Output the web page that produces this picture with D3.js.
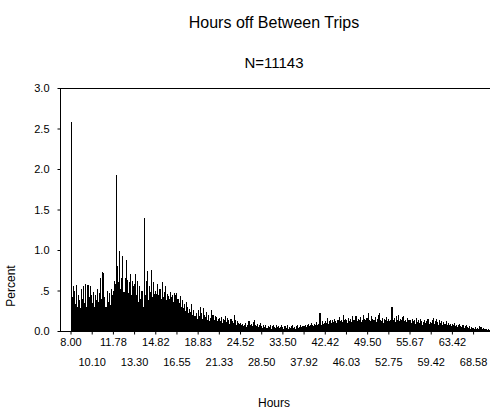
<!DOCTYPE html>
<html>
<head>
<meta charset="utf-8">
<script src="https://d3js.org/d3.v7.min.js"></script>
<title>Hours off Between Trips</title>
<style>
body { margin: 0; background: #fff; }
svg { display: block; font-family: "Liberation Sans", Arial, sans-serif; }
</style>
</head>
<body>
<svg id="svg" width="494" height="412"></svg>
<script>

// one label every 20 hour-values (categories)
let tickLabels = ["8.00", "10.10", "11.78", "13.30", "14.82", "16.55", "18.83", "21.33",
  "24.52", "28.50", "33.50", "37.92", "42.42", "46.03", "49.50", "52.75",
  "55.67", "59.42", "63.42", "68.58"];
let tickEvery = 20;
let yTicks = [0, 0.5, 1, 1.5, 2, 2.5, 3];

// percent of trips for each distinct hours value, one row per label
let pct00 = [2.58, 0.42, 0.55, 0.50, 0.33, 0.57, 0.30, 0.45, 0.38, 0.28, 0.52, 0.40, 0.56, 0.35, 0.58, 0.30, 0.57, 0.42, 0.55, 0.45];
let pct01 = [0.35, 0.48, 0.30, 0.44, 0.38, 0.52, 0.36, 0.47, 0.65, 0.40, 0.73, 0.72, 0.42, 0.30, 0.50, 0.36, 0.47, 0.32, 0.52, 0.45];
let pct02 = [0.50, 0.62, 0.58, 1.93, 0.80, 0.60, 0.99, 0.52, 0.65, 0.93, 0.48, 0.66, 0.88, 0.63, 0.47, 0.61, 0.70, 0.45, 0.62, 0.55];
let pct03 = [0.58, 0.70, 0.45, 0.62, 0.36, 0.55, 0.40, 0.50, 0.30, 1.40, 0.45, 0.62, 0.74, 0.38, 0.55, 0.48, 0.75, 0.42, 0.60, 0.46];
let pct04 = [0.50, 0.46, 0.58, 0.44, 0.52, 0.40, 0.60, 0.42, 0.48, 0.55, 0.38, 0.46, 0.43, 0.40, 0.48, 0.42, 0.45, 0.36, 0.47, 0.44];
let pct05 = [0.47, 0.40, 0.35, 0.43, 0.30, 0.38, 0.28, 0.33, 0.25, 0.36, 0.30, 0.22, 0.27, 0.24, 0.33, 0.20, 0.26, 0.18, 0.22, 0.15];
let pct06 = [0.26, 0.18, 0.30, 0.22, 0.15, 0.28, 0.20, 0.17, 0.24, 0.14, 0.20, 0.12, 0.16, 0.26, 0.20, 0.13, 0.18, 0.17, 0.12, 0.15];
let pct07 = [0.16, 0.12, 0.17, 0.10, 0.15, 0.13, 0.18, 0.11, 0.16, 0.14, 0.09, 0.15, 0.12, 0.10, 0.20, 0.13, 0.08, 0.12, 0.10, 0.09];
let pct08 = [0.10, 0.07, 0.09, 0.06, 0.08, 0.10, 0.05, 0.08, 0.12, 0.07, 0.09, 0.06, 0.11, 0.13, 0.08, 0.06, 0.09, 0.05, 0.07, 0.10];
let pct09 = [0.06, 0.04, 0.07, 0.05, 0.08, 0.04, 0.06, 0.05, 0.07, 0.03, 0.06, 0.08, 0.05, 0.04, 0.07, 0.05, 0.06, 0.04, 0.05, 0.07];
let pct10 = [0.05, 0.03, 0.06, 0.04, 0.07, 0.03, 0.05, 0.04, 0.06, 0.08, 0.04, 0.05, 0.03, 0.06, 0.07, 0.04, 0.05, 0.08, 0.05, 0.06];
let pct11 = [0.06, 0.08, 0.05, 0.07, 0.09, 0.06, 0.08, 0.10, 0.07, 0.06, 0.09, 0.08, 0.11, 0.07, 0.09, 0.22, 0.08, 0.12, 0.09, 0.10];
let pct12 = [0.12, 0.10, 0.16, 0.09, 0.12, 0.14, 0.10, 0.13, 0.11, 0.15, 0.12, 0.10, 0.14, 0.17, 0.12, 0.13, 0.11, 0.20, 0.13, 0.15];
let pct13 = [0.14, 0.10, 0.16, 0.12, 0.15, 0.11, 0.18, 0.13, 0.14, 0.19, 0.12, 0.15, 0.13, 0.17, 0.11, 0.14, 0.20, 0.15, 0.13, 0.16];
let pct14 = [0.16, 0.22, 0.14, 0.12, 0.18, 0.15, 0.13, 0.17, 0.11, 0.15, 0.20, 0.22, 0.14, 0.12, 0.16, 0.10, 0.15, 0.13, 0.17, 0.12];
let pct15 = [0.15, 0.12, 0.14, 0.30, 0.13, 0.16, 0.11, 0.18, 0.14, 0.20, 0.12, 0.15, 0.13, 0.17, 0.19, 0.12, 0.14, 0.11, 0.16, 0.13];
let pct16 = [0.13, 0.10, 0.15, 0.12, 0.14, 0.09, 0.16, 0.11, 0.13, 0.10, 0.15, 0.12, 0.08, 0.11, 0.14, 0.10, 0.12, 0.15, 0.09, 0.11];
let pct17 = [0.10, 0.13, 0.16, 0.09, 0.12, 0.15, 0.11, 0.08, 0.13, 0.10, 0.12, 0.07, 0.11, 0.09, 0.12, 0.08, 0.10, 0.07, 0.09, 0.06];
let pct18 = [0.09, 0.07, 0.10, 0.06, 0.08, 0.05, 0.07, 0.09, 0.06, 0.05, 0.07, 0.04, 0.06, 0.08, 0.05, 0.04, 0.06, 0.03, 0.05, 0.04];
let pct19 = [0.04, 0.03, 0.05, 0.02, 0.04, 0.03, 0.06, 0.05, 0.03, 0.04, 0.02, 0.03, 0.02, 0.01, 0.02, 0.01];

let percent = [].concat(pct00, pct01, pct02, pct03, pct04, pct05, pct06, pct07, pct08, pct09,
  pct10, pct11, pct12, pct13, pct14, pct15, pct16, pct17, pct18, pct19);

let plotLeft = 60, plotRight = 490, plotTop = 88, plotBottom = 331;

let svg = d3.select("#svg");

let x = d3.scaleBand()
  .domain(d3.range(percent.length))
  .range([70.5, 490]);

let y = d3.scaleLinear()
  .domain([0, 3])
  .range([plotBottom, plotTop]);

// titles
svg.append("text")
  .attr("x", 274).attr("y", 28)
  .attr("text-anchor", "middle")
  .attr("font-size", 16)
  .text("Hours off Between Trips");

svg.append("text")
  .attr("x", 274).attr("y", 68)
  .attr("text-anchor", "middle")
  .attr("font-size", 15)
  .text("N=11143");

// bars
svg.append("g").selectAll("rect")
  .data(percent)
  .enter().append("rect")
  .attr("x", function(d, i) { return x(i); })
  .attr("width", x.bandwidth())
  .attr("y", function(d) { return y(d); })
  .attr("height", function(d) { return plotBottom - y(d); })
  .attr("fill", "#000")
  .attr("shape-rendering", "crispEdges");

// top frame line
svg.append("line")
  .attr("x1", plotLeft).attr("x2", plotRight)
  .attr("y1", plotTop + 0.5).attr("y2", plotTop + 0.5)
  .attr("stroke", "#000");

// y axis
let yAxis = svg.append("g")
  .attr("transform", "translate(" + (plotLeft + 0.5) + ",0)")
  .call(d3.axisLeft(y)
    .tickValues(yTicks)
    .tickSize(3)
    .tickPadding(8)
    .tickFormat(function(d) { return d == 0 ? "0.0" : (d < 1 ? d3.format(".1f")(d).slice(1) : d3.format(".1f")(d)); }));
yAxis.select(".domain").attr("d", "M0," + plotTop + "V" + plotBottom);
yAxis.selectAll("text").attr("font-size", 11).attr("font-family", "Liberation Sans, Arial, sans-serif").attr("fill", "#000");

// x axis
let xAxis = svg.append("g")
  .attr("transform", "translate(0," + (plotBottom + 0.5) + ")")
  .call(d3.axisBottom(x)
    .tickValues(tickLabels.map(function(d, i) { return i * tickEvery; }))
    .tickSize(3)
    .tickSizeOuter(0)
    .tickFormat(function(d) { return tickLabels[d / tickEvery]; }));
xAxis.select(".domain").attr("d", "M" + plotLeft + ",0H" + plotRight);
xAxis.selectAll("text")
  .attr("font-size", 11)
  .attr("font-family", "Liberation Sans, Arial, sans-serif")
  .attr("fill", "#000")
  .attr("y", function(d) { return (d / tickEvery) % 2 == 0 ? 7 : 27; });

// axis titles
svg.append("text")
  .attr("transform", "translate(15,286) rotate(-90)")
  .attr("text-anchor", "middle")
  .attr("font-size", 12)
  .text("Percent");

svg.append("text")
  .attr("x", 274).attr("y", 407)
  .attr("text-anchor", "middle")
  .attr("font-size", 12)
  .text("Hours");

</script>
</body>
</html>
